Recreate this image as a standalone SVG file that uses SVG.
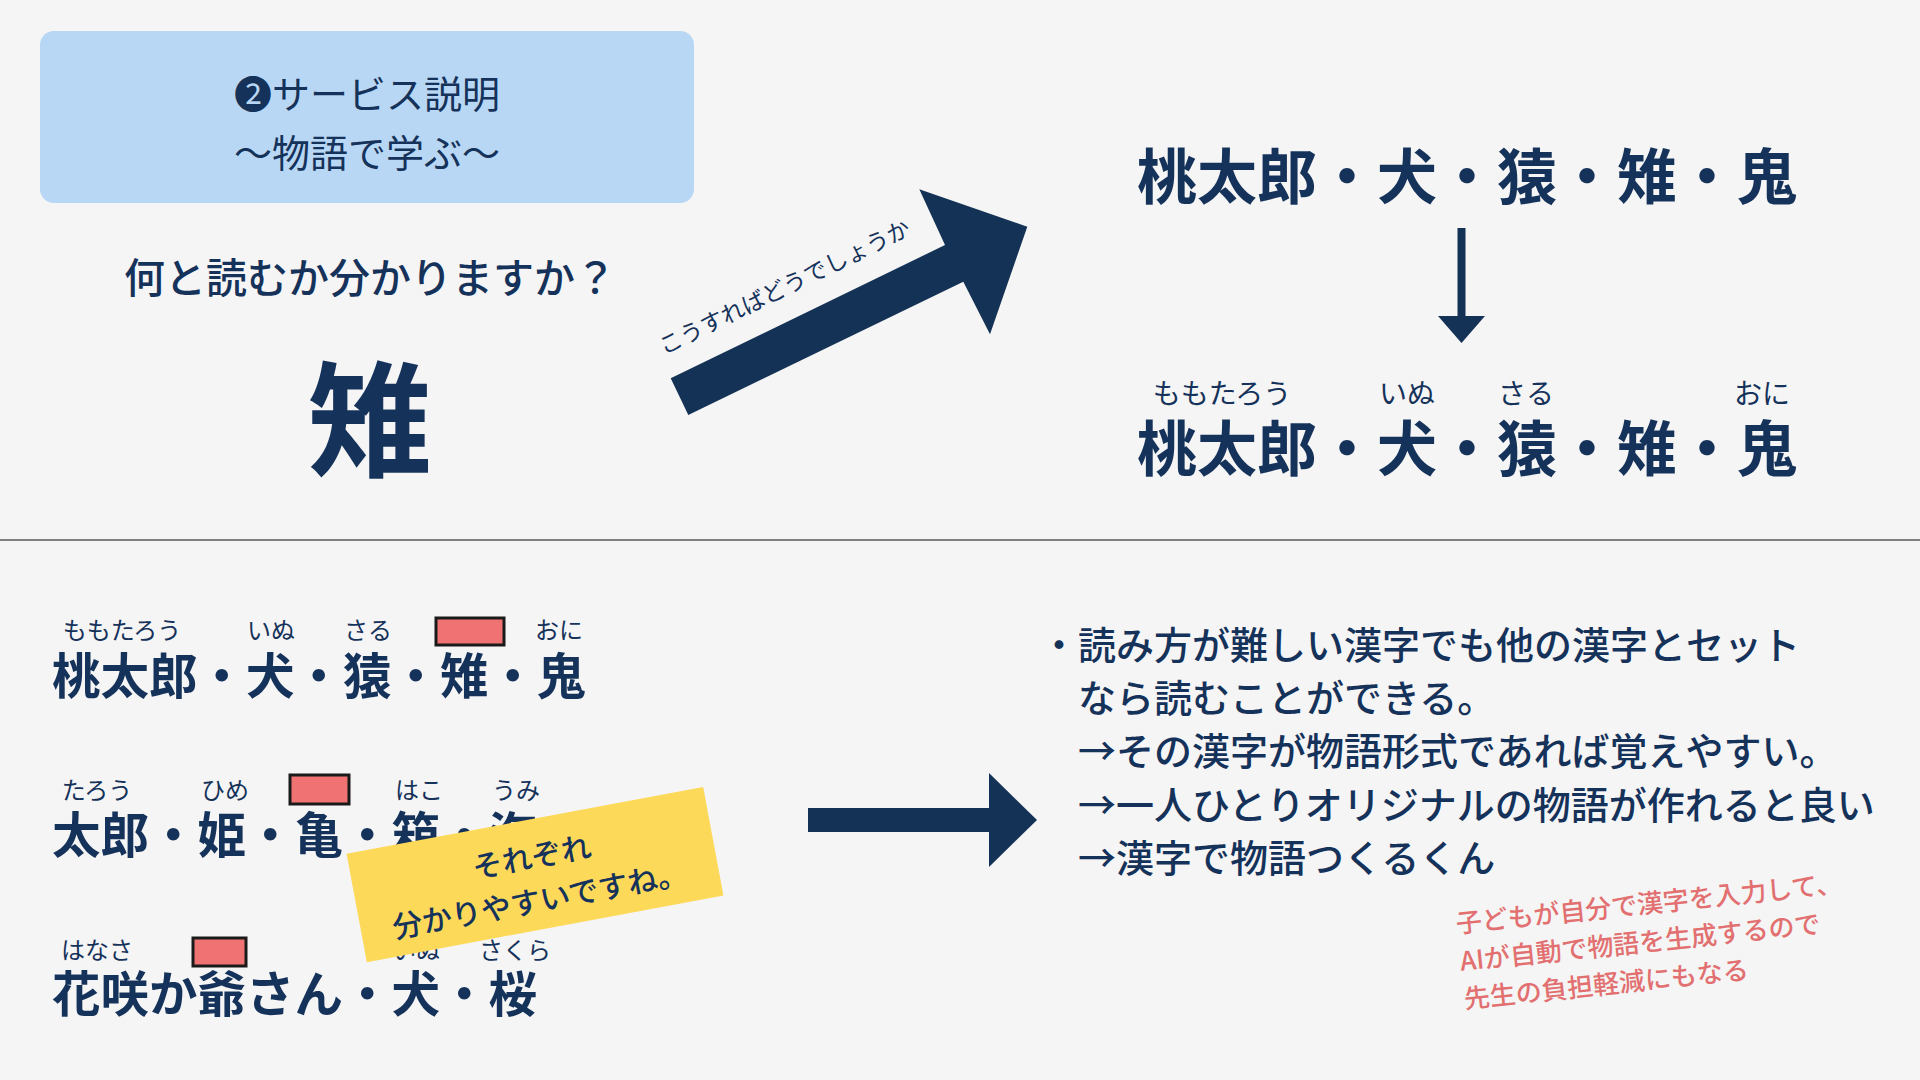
<svg xmlns="http://www.w3.org/2000/svg" width="1920" height="1080" viewBox="0 0 1920 1080">
<style>
.t{font-family:"Noto Sans CJK JP","Noto Sans CJK SC",sans-serif;fill:#15325A}
.k{font-weight:700}
.ruby{font-weight:400}
.mid{text-anchor:middle}
.red{fill:#F07272;stroke:#1A1A1A;stroke-width:3}
.nav{fill:#143256}
</style>
<rect width="1920" height="1080" fill="#F5F5F5"/>
<line x1="0" y1="540" x2="1920" y2="540" stroke="#808080" stroke-width="2"/>

<g id="title">
<rect x="40" y="31" width="654" height="172" rx="14" fill="#B8D7F4"/>
<text class="t mid" x="367" y="108" font-size="38">❷サービス説明</text>
<text class="t mid" x="367" y="167" font-size="38">〜物語で学ぶ〜</text>
</g>

<g id="question">
<text class="t" x="124" y="293" font-size="41" font-weight="500">何と読むか分かりますか？</text>
<text class="t k mid" x="370" y="467" font-size="125">雉</text>
</g>

<g id="top-rows">
<text class="t k" x="1137" y="199" font-size="60">桃太郎・犬・猿・雉・鬼</text>
<text class="t k" x="1137" y="471" font-size="60">桃太郎・犬・猿・雉・鬼</text>
<g class="t ruby mid" font-size="28">
<text x="1222" y="404">ももたろう</text>
<text x="1407" y="404">いぬ</text>
<text x="1526" y="404">さる</text>
<text x="1762" y="404">おに</text>
</g>
</g>

<g id="connectors">
<polygon class="nav" points="670.7,378.3 945,245 919.3,189.3 1027.3,226.7 990,334.3 963.3,281.7 688.3,415"/>
<line x1="1461.5" y1="228" x2="1461.5" y2="320" stroke="#143256" stroke-width="8"/>
<polygon class="nav" points="1438,316 1485,316 1461.5,343"/>
<rect class="nav" x="808" y="808" width="185" height="24"/>
<polygon class="nav" points="989,773 1037,820 989,867"/>
</g>
<text class="t" font-size="23" transform="translate(664,355) rotate(-26)">こうすればどうでしょうか</text>

<g id="rows">
<g class="t ruby mid" font-size="24">
<text x="122" y="639">ももたろう</text>
<text x="271" y="639">いぬ</text>
<text x="368" y="639">さる</text>
<text x="559" y="639">おに</text>
<text x="97" y="799">たろう</text>
<text x="225" y="799">ひめ</text>
<text x="419" y="799">はこ</text>
<text x="516" y="799">うみ</text>
<text x="97" y="959">はなさ</text>
<text x="416" y="959">いぬ</text>
<text x="515" y="959">さくら</text>
</g>
<rect class="red" x="436" y="618" width="68" height="27"/>
<rect class="red" x="290" y="775" width="59" height="29"/>
<rect class="red" x="193" y="938" width="53" height="28"/>
<text class="t k" x="52" y="694" font-size="48.5">桃太郎・犬・猿・雉・鬼</text>
<text class="t k" x="52" y="853" font-size="48.5">太郎・姫・亀・箱・海</text>
<text class="t k" x="52" y="1012" font-size="48.5">花咲か爺さん・犬・桜</text>
</g>

<g id="note" transform="translate(535,874.6) rotate(-10.6)">
<rect x="-181.4" y="-55.1" width="362.8" height="110.2" fill="#FDD95A"/>
<text class="t mid" x="0" y="-7" font-size="30" font-weight="500">それぞれ</text>
<text class="t mid" x="0" y="37" font-size="30" font-weight="500">分かりやすいですね。</text>
</g>

<g id="summary" class="t" font-size="38" font-weight="500">
<text x="1040" y="659">・読み方が難しい漢字でも他の漢字とセット</text>
<text x="1078" y="712">なら読むことができる。</text>
<text x="1078" y="765">→その漢字が物語形式であれば覚えやすい。</text>
<text x="1078" y="819">→一人ひとりオリジナルの物語が作れると良い</text>
<text x="1078" y="872">→漢字で物語つくるくん</text>
</g>

<g id="memo" transform="translate(1457,933) rotate(-6)" font-family="Noto Sans CJK JP,Noto Sans CJK SC,sans-serif" font-size="26" font-weight="500" fill="#E27070">
<text x="0" y="0">子どもが自分で漢字を入力して、</text>
<text x="0" y="38">AIが自動で物語を生成するので</text>
<text x="0" y="76">先生の負担軽減にもなる</text>
</g>
</svg>
